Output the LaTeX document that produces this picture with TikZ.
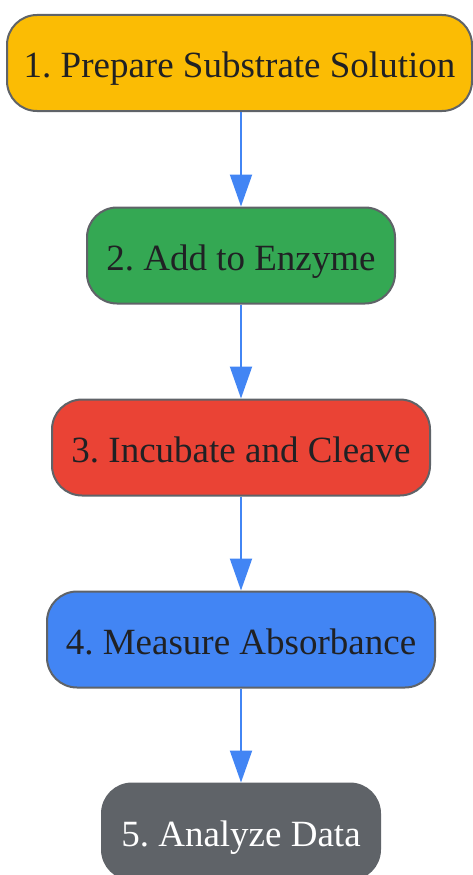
\documentclass[tikz,border=0pt]{standalone}
\usepackage{fontspec}
\setmainfont{Liberation Serif}
\usetikzlibrary{arrows.meta}
\definecolor{cyellow}{HTML}{FBBC04}
\definecolor{cgreen}{HTML}{34A853}
\definecolor{cred}{HTML}{EA4335}
\definecolor{cblue}{HTML}{4285F4}
\definecolor{cgrey}{HTML}{5F6368}
\definecolor{ctext}{HTML}{202124}
\tikzset{
  stepbox/.style={draw=cgrey, line width=2pt, rounded corners=30pt, minimum height=96pt, inner sep=0pt, text height=30pt, text depth=1pt, text=ctext, font=\fontsize{37}{40}\selectfont\frenchspacing},
  flow/.style={draw=cblue, line width=2pt, -{Triangle[width=22pt,length=32pt]}}
}
\begin{document}
\begin{tikzpicture}[x=1pt,y=1pt]
\useasboundingbox (0,0) rectangle (473,-875);
\node[stepbox, fill=cyellow, minimum width=465pt] (n1) at (239.5,-63) {1. Prepare Substrate Solution};
\node[stepbox, fill=cgreen, minimum width=308pt] (n2) at (241,-255.5) {2. Add to Enzyme};
\node[stepbox, fill=cred, minimum width=378pt] (n3) at (241,-447.5) {3. Incubate and Cleave};
\node[stepbox, fill=cblue, minimum width=388pt] (n4) at (241,-639.5) {4. Measure Absorbance};
\node[stepbox, fill=cgrey, minimum width=278pt, text=white] (n5) at (241,-831.5) {5. Analyze Data};
\draw[flow] (n1.south -| n2) -- (n2.north);
\draw[flow] (n2) -- (n3);
\draw[flow] (n3) -- (n4);
\draw[flow] (n4) -- (n5);
\end{tikzpicture}
\end{document}
